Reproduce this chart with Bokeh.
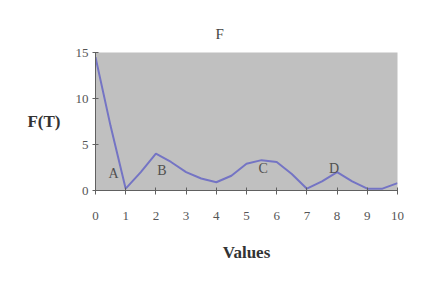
from bokeh.plotting import figure
from bokeh.models import Range1d, FixedTicker
from bokeh.embed import file_html
from bokeh.resources import INLINE

# data
t_vals = [0, 0.5, 1, 1.5, 2, 2.5, 3, 3.5, 4, 4.5, 5, 5.5, 6, 6.5, 7, 7.5, 8, 8.5, 9, 9.5, 10]
f_vals = [14.5, 7.0, 0.2, 2.0, 4.0, 3.1, 2.0, 1.3, 0.9, 1.6, 2.9, 3.3, 3.1, 1.8, 0.2, 1.0, 2.0, 1.0, 0.2, 0.2, 0.8]
peak_names = ["A", "B", "C", "D"]
peak_x = [0.6, 2.2, 5.55, 7.9]
peak_y = [1.9, 2.2, 2.4, 2.4]
x_ticks = list(range(0, 11))
y_ticks = [0, 5, 10, 15]
title_text = "F"
x_title = "Values"
y_title = "F(T)"

p = figure(width=419, height=285, output_backend="svg", toolbar_location=None,
           x_range=Range1d(0, 10), y_range=Range1d(0, 15),
           min_border_left=95, min_border_right=22, min_border_top=52, min_border_bottom=95)
p.background_fill_color = "#c0c0c0"
p.border_fill_color = "white"
p.outline_line_color = None
p.xgrid.grid_line_color = None
p.ygrid.grid_line_color = None

font = "Liberation Serif"
p.title.text = title_text
p.title.align = "left"
p.title.offset = 120
p.title.text_font = font
p.title.text_font_size = "15px"
p.title.text_font_style = "normal"
p.title.text_color = "#444444"
p.title.standoff = 22

for ax in (p.xaxis[0], p.yaxis[0]):
    ax.axis_line_color = "#606060"
    ax.major_tick_line_color = "#606060"
    ax.minor_tick_line_color = None
    ax.major_label_text_font = font
    ax.major_label_text_font_size = "13px"
    ax.major_label_text_color = "#555555"
    ax.axis_label_text_font = font
    ax.axis_label_text_font_style = "bold"
    ax.axis_label_text_font_size = "17px"
    ax.axis_label_text_color = "#333333"

p.xaxis.ticker = FixedTicker(ticks=x_ticks)
p.yaxis.ticker = FixedTicker(ticks=y_ticks)
p.xaxis.major_tick_in = 3
p.xaxis.major_tick_out = 4
p.xaxis.major_label_standoff = 17
p.xaxis.axis_label = x_title
p.xaxis.axis_label_standoff = 20
p.yaxis.major_tick_in = 3
p.yaxis.major_tick_out = 3
p.yaxis.major_label_standoff = 4
p.yaxis.axis_label = y_title
p.yaxis.axis_label_orientation = "horizontal"
p.yaxis.axis_label_standoff = 12

p.line(t_vals, f_vals, line_color="#7474c4", line_width=2)

p.text(x=peak_x, y=peak_y, text=peak_names, text_align="center", text_baseline="middle",
       text_font_size="14px", text_color="#505050", text_font={"value": font})

open("out.html", "w").write(file_html(p, INLINE))
